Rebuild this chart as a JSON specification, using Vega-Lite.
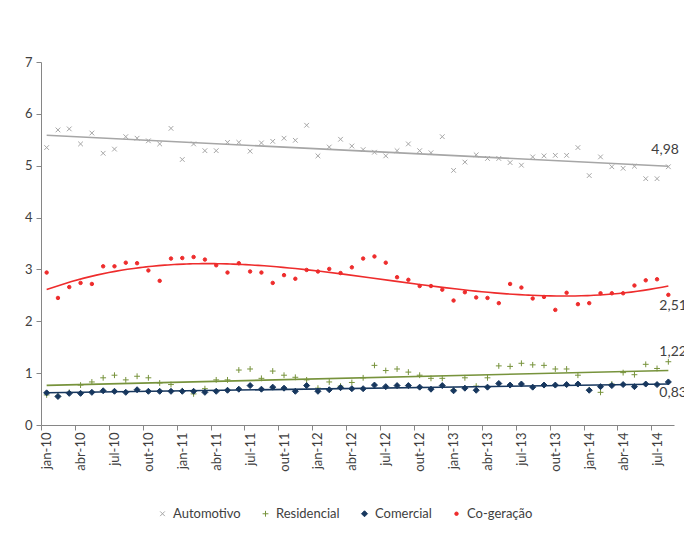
{
  "$schema": "https://vega.github.io/schema/vega-lite/v6.json",
  "width": 633,
  "height": 363,
  "padding": {"left": 24, "top": 56, "right": 5, "bottom": 5},
  "background": "white",
  "config": {
    "font": "Lato",
    "view": {"stroke": null},
    "locale": {"number": {"decimal": ",", "thousands": ".", "grouping": [3], "currency": ["R$", ""]}},
    "axis": {"labelFont": "Lato", "labelFontSize": 13, "labelColor": "#404040", "domainColor": "#868686", "tickColor": "#868686", "grid": false, "title": null},
    "legend": {"labelFont": "Lato", "labelFontSize": 13, "labelColor": "#404040"}
  },
  "datasets": {
    "gn": [
      {"i":0,"Automotivo":5.35,"Residencial":0.58,"Comercial":0.62,"Co-geração":2.94},
      {"i":1,"Automotivo":5.69,"Residencial":0.56,"Comercial":0.55,"Co-geração":2.45},
      {"i":2,"Automotivo":5.71,"Residencial":0.63,"Comercial":0.61,"Co-geração":2.66},
      {"i":3,"Automotivo":5.42,"Residencial":0.77,"Comercial":0.61,"Co-geração":2.74},
      {"i":4,"Automotivo":5.63,"Residencial":0.83,"Comercial":0.63,"Co-geração":2.72},
      {"i":5,"Automotivo":5.24,"Residencial":0.91,"Comercial":0.66,"Co-geração":3.06},
      {"i":6,"Automotivo":5.32,"Residencial":0.96,"Comercial":0.65,"Co-geração":3.06},
      {"i":7,"Automotivo":5.56,"Residencial":0.87,"Comercial":0.63,"Co-geração":3.13},
      {"i":8,"Automotivo":5.53,"Residencial":0.94,"Comercial":0.68,"Co-geração":3.12},
      {"i":9,"Automotivo":5.48,"Residencial":0.91,"Comercial":0.65,"Co-geração":2.98},
      {"i":10,"Automotivo":5.42,"Residencial":0.81,"Comercial":0.65,"Co-geração":2.78},
      {"i":11,"Automotivo":5.72,"Residencial":0.78,"Comercial":0.65,"Co-geração":3.21},
      {"i":12,"Automotivo":5.12,"Residencial":0.66,"Comercial":0.65,"Co-geração":3.22},
      {"i":13,"Automotivo":5.42,"Residencial":0.60,"Comercial":0.65,"Co-geração":3.24},
      {"i":14,"Automotivo":5.29,"Residencial":0.70,"Comercial":0.63,"Co-geração":3.19},
      {"i":15,"Automotivo":5.29,"Residencial":0.87,"Comercial":0.65,"Co-geração":3.08},
      {"i":16,"Automotivo":5.45,"Residencial":0.87,"Comercial":0.67,"Co-geração":2.94},
      {"i":17,"Automotivo":5.45,"Residencial":1.06,"Comercial":0.69,"Co-geração":3.12},
      {"i":18,"Automotivo":5.28,"Residencial":1.08,"Comercial":0.76,"Co-geração":2.96},
      {"i":19,"Automotivo":5.44,"Residencial":0.90,"Comercial":0.69,"Co-geração":2.94},
      {"i":20,"Automotivo":5.47,"Residencial":1.04,"Comercial":0.73,"Co-geração":2.74},
      {"i":21,"Automotivo":5.53,"Residencial":0.96,"Comercial":0.71,"Co-geração":2.89},
      {"i":22,"Automotivo":5.49,"Residencial":0.92,"Comercial":0.65,"Co-geração":2.82},
      {"i":23,"Automotivo":5.78,"Residencial":0.87,"Comercial":0.76,"Co-geração":2.99},
      {"i":24,"Automotivo":5.19,"Residencial":0.71,"Comercial":0.65,"Co-geração":2.96},
      {"i":25,"Automotivo":5.36,"Residencial":0.83,"Comercial":0.68,"Co-geração":3.01},
      {"i":26,"Automotivo":5.51,"Residencial":0.75,"Comercial":0.72,"Co-geração":2.93},
      {"i":27,"Automotivo":5.38,"Residencial":0.82,"Comercial":0.70,"Co-geração":3.04},
      {"i":28,"Automotivo":5.31,"Residencial":0.91,"Comercial":0.70,"Co-geração":3.21},
      {"i":29,"Automotivo":5.26,"Residencial":1.15,"Comercial":0.77,"Co-geração":3.25},
      {"i":30,"Automotivo":5.19,"Residencial":1.05,"Comercial":0.74,"Co-geração":3.13},
      {"i":31,"Automotivo":5.29,"Residencial":1.08,"Comercial":0.76,"Co-geração":2.85},
      {"i":32,"Automotivo":5.42,"Residencial":1.02,"Comercial":0.76,"Co-geração":2.80},
      {"i":33,"Automotivo":5.29,"Residencial":0.96,"Comercial":0.73,"Co-geração":2.68},
      {"i":34,"Automotivo":5.25,"Residencial":0.90,"Comercial":0.69,"Co-geração":2.68},
      {"i":35,"Automotivo":5.56,"Residencial":0.90,"Comercial":0.76,"Co-geração":2.61},
      {"i":36,"Automotivo":4.91,"Residencial":0.68,"Comercial":0.66,"Co-geração":2.40},
      {"i":37,"Automotivo":5.07,"Residencial":0.91,"Comercial":0.71,"Co-geração":2.56},
      {"i":38,"Automotivo":5.21,"Residencial":0.75,"Comercial":0.67,"Co-geração":2.46},
      {"i":39,"Automotivo":5.14,"Residencial":0.91,"Comercial":0.73,"Co-geração":2.45},
      {"i":40,"Automotivo":5.14,"Residencial":1.14,"Comercial":0.80,"Co-geração":2.35},
      {"i":41,"Automotivo":5.06,"Residencial":1.13,"Comercial":0.77,"Co-geração":2.72},
      {"i":42,"Automotivo":5.01,"Residencial":1.19,"Comercial":0.79,"Co-geração":2.65},
      {"i":43,"Automotivo":5.17,"Residencial":1.16,"Comercial":0.73,"Co-geração":2.44},
      {"i":44,"Automotivo":5.19,"Residencial":1.15,"Comercial":0.77,"Co-geração":2.47},
      {"i":45,"Automotivo":5.20,"Residencial":1.08,"Comercial":0.77,"Co-geração":2.22},
      {"i":46,"Automotivo":5.20,"Residencial":1.08,"Comercial":0.78,"Co-geração":2.55},
      {"i":47,"Automotivo":5.35,"Residencial":0.96,"Comercial":0.79,"Co-geração":2.33},
      {"i":48,"Automotivo":4.81,"Residencial":0.68,"Comercial":0.67,"Co-geração":2.35},
      {"i":49,"Automotivo":5.17,"Residencial":0.63,"Comercial":0.74,"Co-geração":2.54},
      {"i":50,"Automotivo":4.98,"Residencial":0.79,"Comercial":0.76,"Co-geração":2.54},
      {"i":51,"Automotivo":4.95,"Residencial":1.01,"Comercial":0.78,"Co-geração":2.54},
      {"i":52,"Automotivo":4.99,"Residencial":0.97,"Comercial":0.74,"Co-geração":2.69},
      {"i":53,"Automotivo":4.75,"Residencial":1.17,"Comercial":0.79,"Co-geração":2.79},
      {"i":54,"Automotivo":4.75,"Residencial":1.09,"Comercial":0.78,"Co-geração":2.81},
      {"i":55,"Automotivo":4.98,"Residencial":1.22,"Comercial":0.83,"Co-geração":2.51}
    ]
  },
  "data": {"name": "gn"},
  "transform": [
    {"fold": ["Automotivo", "Residencial", "Comercial", "Co-geração"], "as": ["serie", "valor"]}
  ],
  "encoding": {
    "x": {
      "field": "i", "type": "quantitative",
      "scale": {"domain": [-0.5, 55.5], "nice": false, "zero": false},
      "axis": {
        "values": [-0.5, 2.5, 5.5, 8.5, 11.5, 14.5, 17.5, 20.5, 23.5, 26.5, 29.5, 32.5, 35.5, 38.5, 41.5, 44.5, 47.5, 50.5, 53.5],
        "labelExpr": "['jan','fev','mar','abr','mai','jun','jul','ago','set','out','nov','dez'][(datum.value + 0.5) % 12] + '-' + (10 + floor((datum.value + 0.5) / 12))",
        "labelAngle": -90,
        "labelOffset": 5.65,
        "tickSize": 5,
        "labelPadding": 2,
        "labelFlush": false,
        "labelOverlap": false,
        "labelBound": false
      }
    },
    "y": {
      "field": "valor", "type": "quantitative",
      "scale": {"domain": [0, 7], "nice": false},
      "axis": {"values": [0, 1, 2, 3, 4, 5, 6, 7], "tickSize": 5, "labelPadding": 4}
    }
  },
  "layer": [
    {
      "mark": {"type": "point", "filled": false, "strokeWidth": 1, "opacity": 1},
      "encoding": {
        "color": {
          "field": "serie", "type": "nominal",
          "scale": {"domain": ["Automotivo", "Residencial", "Comercial", "Co-geração"], "range": ["#a6a6a6", "#77933c", "#17375e", "#ee2c2c"]},
          "legend": {"orient": "none", "legendX": 115, "legendY": 445, "direction": "horizontal", "title": null, "columnPadding": 18, "labelOffset": 4, "symbolStrokeWidth": 1}
        },
        "fill": {
          "field": "serie", "type": "nominal",
          "scale": {"domain": ["Automotivo", "Residencial", "Comercial", "Co-geração"], "range": ["#a6a6a6", "#77933c", "#17375e", "#ee2c2c"]},
          "legend": null
        },
        "shape": {
          "field": "serie", "type": "nominal",
          "scale": {"domain": ["Automotivo", "Residencial", "Comercial", "Co-geração"], "range": ["M-1,-1L1,1M1,-1L-1,1", "M-1,0L1,0M0,-1L0,1", "diamond", "circle"]},
          "legend": null
        },
        "size": {
          "field": "serie", "type": "nominal",
          "scale": {"type": "ordinal", "domain": ["Automotivo", "Residencial", "Comercial", "Co-geração"], "range": [22, 34, 36, 12]},
          "legend": null
        }
      }
    },
    {
      "transform": [
        {"filter": "datum.serie !== 'Co-geração'"},
        {"regression": "valor", "on": "i", "groupby": ["serie"], "method": "linear"}
      ],
      "mark": {"type": "line", "strokeWidth": 1.6},
      "encoding": {
        "color": {"field": "serie", "type": "nominal", "legend": null}
      }
    },
    {
      "transform": [
        {"filter": "datum.serie === 'Co-geração'"},
        {"regression": "valor", "on": "i", "groupby": ["serie"], "method": "poly", "order": 3}
      ],
      "mark": {"type": "line", "strokeWidth": 1.6},
      "encoding": {
        "color": {"field": "serie", "type": "nominal", "legend": null}
      }
    },
    {
      "transform": [{"filter": "datum.i === 55 && datum.serie === 'Automotivo'"}],
      "mark": {"type": "text", "align": "left", "baseline": "middle", "dx": -17, "dy": -17, "fontSize": 14, "color": "#404040"},
      "encoding": {"text": {"field": "valor", "type": "quantitative", "format": ".2f"}}
    },
    {
      "transform": [{"filter": "datum.i === 55 && datum.serie === 'Residencial'"}],
      "mark": {"type": "text", "align": "left", "baseline": "middle", "dx": -9, "dy": -10, "fontSize": 14, "color": "#404040"},
      "encoding": {"text": {"field": "valor", "type": "quantitative", "format": ".2f"}}
    },
    {
      "transform": [{"filter": "datum.i === 55 && (datum.serie === 'Co-geração' || datum.serie === 'Comercial')"}],
      "mark": {"type": "text", "align": "left", "baseline": "middle", "dx": -9, "dy": 11, "fontSize": 14, "color": "#404040"},
      "encoding": {"text": {"field": "valor", "type": "quantitative", "format": ".2f"}}
    }
  ]
}
